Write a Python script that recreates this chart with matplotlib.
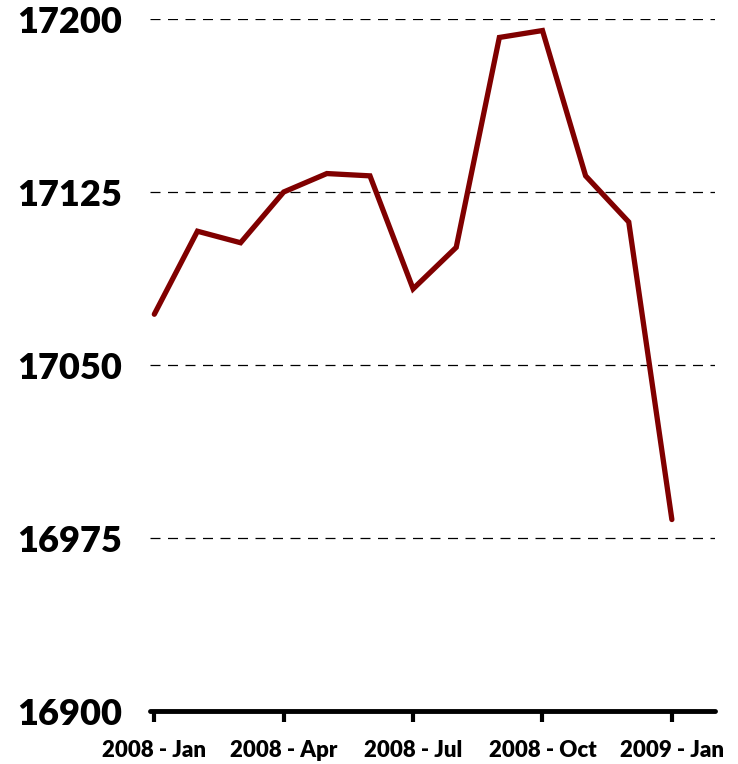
import matplotlib
matplotlib.use("Agg")
import matplotlib.pyplot as plt

# monthly values, Jan 2008 .. Jan 2009
months = ["2008 - Jan", "Feb", "Mar", "2008 - Apr", "May", "Jun",
          "2008 - Jul", "Aug", "Sep", "2008 - Oct", "Nov", "Dec", "2009 - Jan"]
values = [17072, 17108, 17103, 17125, 17133, 17132,
          17083, 17101, 17192, 17195, 17132, 17112, 16983]
y_ticks = [16900, 16975, 17050, 17125, 17200]
tick_idx = [0, 3, 6, 9, 12]

plt.rcParams['font.family'] = ['Lato', 'DejaVu Sans']

fig = plt.figure(figsize=(7.38, 7.64), dpi=100)
ax = fig.add_axes([150 / 738, 1 - 711 / 764, 565 / 738, (711 - 19) / 764])

x = list(range(len(values)))
ax.plot(x, values, color="#800000", lw=3.8, solid_capstyle="round",
        solid_joinstyle="miter", zorder=3)

ax.set_ylim(16900, 17200)
ax.set_xlim(-0.1, 13.0)
ax.set_yticks(y_ticks)
ax.set_yticklabels([str(v) for v in y_ticks], fontsize=26, fontweight="heavy")
ax.tick_params(axis="y", length=0, pad=20)

ax.set_xticks(tick_idx)
ax.set_xticklabels([months[i] for i in tick_idx], fontsize=16, fontweight="heavy")
ax.tick_params(axis="x", direction="out", length=8, width=3, pad=13, color="black")

for v in y_ticks[1:]:
    ax.axhline(v, color="black", lw=0.9, ls=(0, (8, 6)), zorder=1)

for s in ["top", "right", "left"]:
    ax.spines[s].set_visible(False)
ax.spines["bottom"].set_linewidth(3.5)
ax.spines["bottom"].set_capstyle("round")

fig.savefig("out.png", dpi=100)
